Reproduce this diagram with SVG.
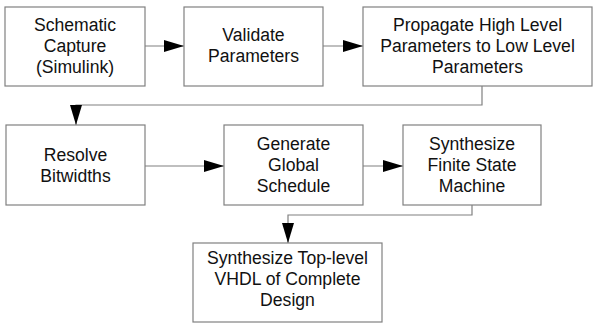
<svg xmlns="http://www.w3.org/2000/svg" width="595" height="325" viewBox="0 0 595 325">
<defs>
<style>
.box{fill:#fff;stroke:#808080;stroke-width:1.2}
.t{font-family:"Liberation Sans",Arial,sans-serif;font-size:17.6px;fill:#111;text-anchor:middle}
.c{fill:none;stroke:#808080;stroke-width:1.2}
</style>
<marker id="ah" viewBox="0 0 20 12" refX="20" refY="6" markerWidth="20" markerHeight="12" markerUnits="userSpaceOnUse" orient="auto">
<path d="M0,0 L20,6 L0,12 Z" fill="#000"/>
</marker>
</defs>
<rect width="595" height="325" fill="#fff"/>
<g id="connectors">
<path class="c" d="M145,46 H184" marker-end="url(#ah)"/>
<path class="c" d="M323,46 H363" marker-end="url(#ah)"/>
<path class="c" d="M482,86 V105 H76 V125" marker-end="url(#ah)"/>
<path class="c" d="M145,166 H224" marker-end="url(#ah)"/>
<path class="c" d="M363,166 H403" marker-end="url(#ah)"/>
<path class="c" d="M472,205 V215 H288 V243" marker-end="url(#ah)"/>
</g>
<g id="n1"><rect class="box" x="5" y="7" width="140" height="79"/>
<text class="t" x="75" y="31">Schematic</text><text class="t" x="75" y="52">Capture</text><text class="t" x="75" y="73">(Simulink)</text></g>
<g id="n2"><rect class="box" x="184" y="7" width="139" height="79"/>
<text class="t" x="253.5" y="41">Validate</text><text class="t" x="253.5" y="62">Parameters</text></g>
<g id="n3"><rect class="box" x="363" y="7" width="229" height="79"/>
<text class="t" x="477.5" y="31">Propagate High Level</text><text class="t" x="477.5" y="52">Parameters to Low Level</text><text class="t" x="477.5" y="73">Parameters</text></g>
<g id="n4"><rect class="box" x="6" y="125" width="139" height="80"/>
<text class="t" x="75.5" y="161">Resolve</text><text class="t" x="75.5" y="182">Bitwidths</text></g>
<g id="n5"><rect class="box" x="224" y="125" width="139" height="80"/>
<text class="t" x="293.5" y="150">Generate</text><text class="t" x="293.5" y="171">Global</text><text class="t" x="293.5" y="192">Schedule</text></g>
<g id="n6"><rect class="box" x="403" y="125" width="138" height="80"/>
<text class="t" x="472" y="150">Synthesize</text><text class="t" x="472" y="171">Finite State</text><text class="t" x="472" y="192">Machine</text></g>
<g id="n7"><rect class="box" x="193" y="243" width="189" height="79"/>
<text class="t" x="287.5" y="264">Synthesize Top-level</text><text class="t" x="287.5" y="285">VHDL of Complete</text><text class="t" x="287.5" y="306">Design</text></g>
</svg>
